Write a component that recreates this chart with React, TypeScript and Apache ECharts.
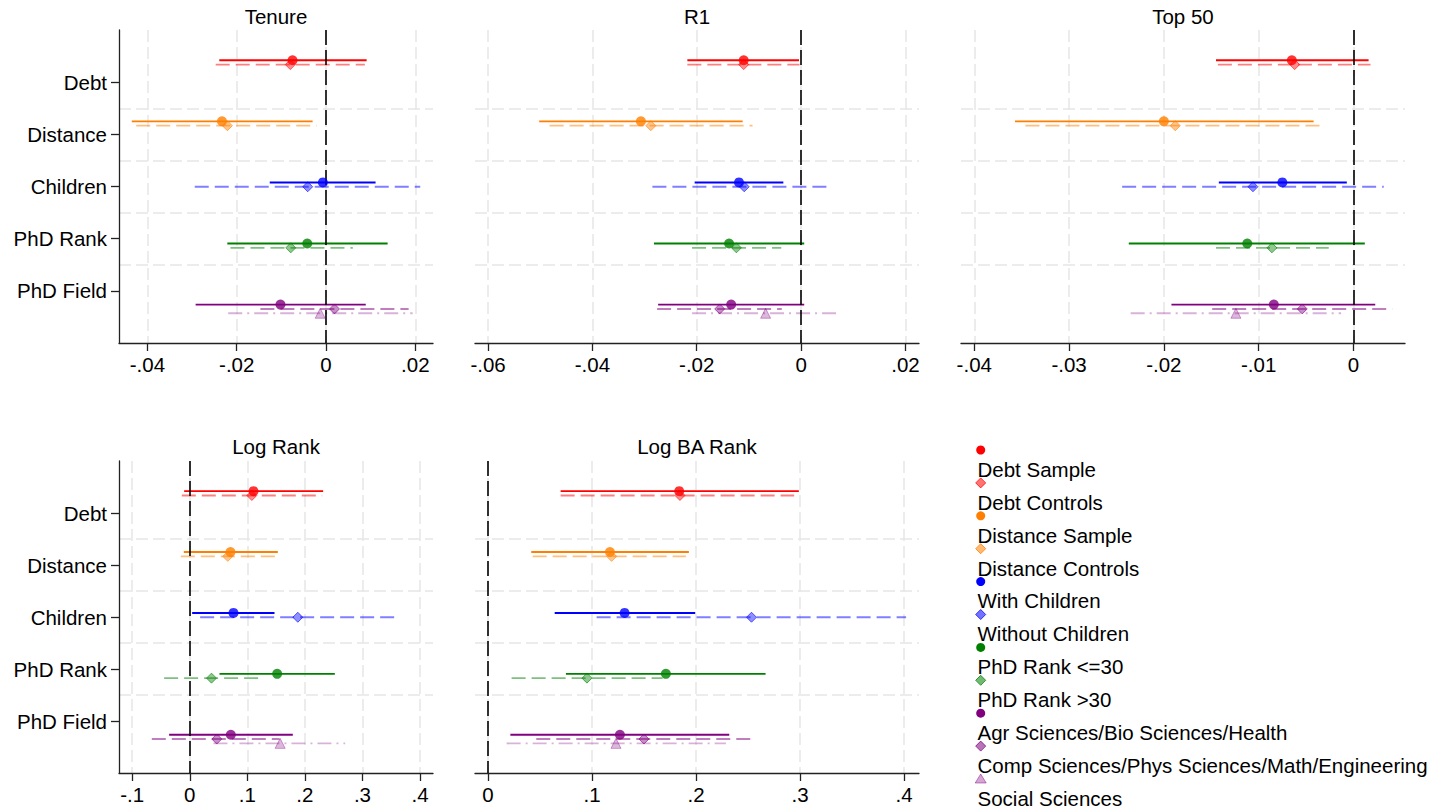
import { useEffect, useRef } from "react";
import * as echarts from "echarts";

// ---------------- data ----------------
const categories = ["Debt", "Distance", "Children", "PhD Rank", "PhD Field"];
const panelTitles = ["Tenure", "R1", "Top 50", "Log Rank", "Log BA Rank"];

// [estimate, ci low, ci high] per category
const tenureMain = [[-0.0075, -0.0239, 0.0091], [-0.0233, -0.0435, -0.003], [-0.0007, -0.0126, 0.0111], [-0.0042, -0.0221, 0.0138], [-0.0102, -0.0292, 0.0089]];
const tenureAlt = [[-0.008, -0.0247, 0.0087], [-0.0221, -0.0425, -0.0021], [-0.0041, -0.0294, 0.0211], [-0.0079, -0.0214, 0.006], [0.0019, -0.0147, 0.0185]];
const tenureSocial = [-0.0013, -0.0219, 0.0194];

const r1Main = [[-0.011, -0.0218, -0.0004], [-0.0307, -0.0502, -0.0112], [-0.0119, -0.0204, -0.0034], [-0.0138, -0.0282, 0.0006], [-0.0134, -0.0274, 0.0006]];
const r1Alt = [[-0.011, -0.0218, -0.0003], [-0.0288, -0.0482, -0.0093], [-0.0109, -0.0285, 0.0059], [-0.0124, -0.0209, -0.0038], [-0.0156, -0.0276, -0.0037]];
const r1Social = [-0.0068, -0.0209, 0.0074];

const top50Main = [[-0.0065, -0.0145, 0.0016], [-0.02, -0.0357, -0.0042], [-0.0075, -0.0142, -0.0007], [-0.0112, -0.0237, 0.0012], [-0.0084, -0.0192, 0.0023]];
const top50Alt = [[-0.0062, -0.0143, 0.0018], [-0.0188, -0.0346, -0.0031], [-0.0106, -0.0244, 0.0032], [-0.0086, -0.0145, -0.0026], [-0.0054, -0.0149, 0.0041]];
const top50Social = [-0.0124, -0.0235, -0.0013];

const logRankMain = [[0.1107, -0.0098, 0.2317], [0.0707, -0.0104, 0.153], [0.0759, 0.0041, 0.1472], [0.1518, 0.0516, 0.252], [0.0713, -0.0359, 0.179]];
const logRankAlt = [[0.1078, -0.0139, 0.23], [0.066, -0.0156, 0.1489], [0.1877, 0.018, 0.3569], [0.0377, -0.0446, 0.1199], [0.0469, -0.066, 0.1559]];
const logRankSocial = [0.157, 0.0411, 0.27];

const logBAMain = [[0.1838, 0.0698, 0.2988], [0.1172, 0.0416, 0.1931], [0.1313, 0.0641, 0.1992], [0.171, 0.0749, 0.2668], [0.1268, 0.0215, 0.2319]];
const logBAAlt = [[0.1845, 0.0698, 0.2943], [0.1188, 0.0429, 0.1902], [0.2533, 0.1044, 0.4019], [0.0951, 0.0227, 0.1678], [0.1499, 0.0464, 0.2543]];
const logBASocial = [0.123, 0.0179, 0.2287];

// axis ticks per panel
const tenureTicks = [-0.04, -0.02, 0, 0.02];
const r1Ticks = [-0.06, -0.04, -0.02, 0, 0.02];
const top50Ticks = [-0.04, -0.03, -0.02, -0.01, 0];
const logRankTicks = [-0.1, 0, 0.1, 0.2, 0.3, 0.4];
const logBATicks = [0, 0.1, 0.2, 0.3, 0.4];

const legendLabels = [
  "Debt Sample",
  "Debt Controls",
  "Distance Sample",
  "Distance Controls",
  "With Children",
  "Without Children",
  "PhD Rank <=30",
  "PhD Rank >30",
  "Agr Sciences/Bio Sciences/Health",
  "Comp Sciences/Phys Sciences/Math/Engineering",
  "Social Sciences",
];

// ---------------- layout / style ----------------
const FONT = '"Liberation Sans", Arial, Helvetica, sans-serif';
const FS = 20.5;
const COLORS = ["#ff0000", "#ff7f00", "#0000ff", "#008000", "#800080"];
const rgba = (hex: string, a: number) => {
  const r = parseInt(hex.slice(1, 3), 16);
  const g = parseInt(hex.slice(3, 5), 16);
  const b = parseInt(hex.slice(5, 7), 16);
  return `rgba(${r},${g},${b},${a})`;
};

const panels = [
  { main: tenureMain, alt: tenureAlt, social: tenureSocial, ticks: tenureTicks, min: -0.04636, max: 0.02396, grid: { left: 119, top: 30, width: 314, height: 313 }, yLabels: true },
  { main: r1Main, alt: r1Alt, social: r1Social, ticks: r1Ticks, min: -0.0625, max: 0.0226, grid: { left: 475, top: 30, width: 444, height: 313 }, yLabels: false },
  { main: top50Main, alt: top50Alt, social: top50Social, ticks: top50Ticks, min: -0.0414, max: 0.00544, grid: { left: 961, top: 30, width: 444, height: 313 }, yLabels: false },
  { main: logRankMain, alt: logRankAlt, social: logRankSocial, ticks: logRankTicks, min: -0.123, max: 0.4226, grid: { left: 119, top: 461, width: 314, height: 312 }, yLabels: true },
  { main: logBAMain, alt: logBAAlt, social: logBASocial, ticks: logBATicks, min: -0.0125, max: 0.4143, grid: { left: 475, top: 461, width: 444, height: 312 }, yLabels: false },
];

const FIRST_POS = 0.58;
const STEP = 1.171;
const ALT_OFF = 0.083;
const SOCIAL_OFF = 0.166;
const catPos = (i: number) => FIRST_POS + STEP * i;

const fmtStata = (v: number) => {
  const s = String(+v.toFixed(4));
  return s.replace(/^(-?)0\./, "$1.");
};

const GRID_COLOR = "#e6e6e6";

function buildOption() {
  const grid: any[] = [];
  const xAxis: any[] = [];
  const yAxis: any[] = [];
  const series: any[] = [];
  const title: any[] = [];

  panels.forEach((p, g) => {
    grid.push({ ...p.grid, containLabel: false });
    title.push({
      text: panelTitles[g],
      left: p.grid.left + p.grid.width / 2,
      top: g < 3 ? 6 : 436,
      textAlign: "center",
      padding: 0,
      textStyle: { fontSize: FS, fontWeight: "normal", color: "#000", fontFamily: FONT },
    });
    xAxis.push({
      type: "value",
      gridIndex: g,
      min: p.min,
      max: p.max,
      axisLine: { show: true, onZero: false, lineStyle: { color: "#222", width: 1.3 } },
      axisTick: { show: true, customValues: p.ticks, length: 8, lineStyle: { color: "#222", width: 1.3 } },
      axisLabel: { customValues: p.ticks, formatter: (v: number) => fmtStata(v), fontSize: FS, color: "#000", fontFamily: FONT, margin: 11 },
      splitLine: { show: true, lineStyle: { color: GRID_COLOR, width: 1.5, type: [12, 5] } },
    });
    // category axis (labels + ticks)
    yAxis.push({
      type: "value",
      gridIndex: g,
      min: 0,
      max: 6,
      inverse: true,
      axisLine: { show: p.yLabels, onZero: false, lineStyle: { color: "#222", width: 1.3 } },
      axisTick: { show: p.yLabels, customValues: [1, 2, 3, 4, 5], length: 8, lineStyle: { color: "#222", width: 1.3 } },
      axisLabel: {
        show: p.yLabels,
        customValues: [1, 2, 3, 4, 5],
        formatter: (v: number) => categories[Math.round(v) - 1] ?? "",
        fontSize: FS,
        color: "#000",
        fontFamily: FONT,
        margin: 12,
      },
      splitLine: { show: false },
    });
    // separator grid lines between categories
    yAxis.push({
      type: "value",
      gridIndex: g,
      min: 0,
      max: 6,
      inverse: true,
      axisLine: { show: false },
      axisTick: { show: false, customValues: [1.5, 2.5, 3.5, 4.5] },
      axisLabel: { show: false },
      splitLine: { show: true, lineStyle: { color: GRID_COLOR, width: 1.5, type: [12, 5] } },
    });

    const yIdx = 2 * g;

    // CI lines
    type Seg = { lo: number; hi: number; y: number; stroke: string; dash: number[] | null; width: number };
    const segs: Seg[] = [];
    p.alt.forEach((d, i) => segs.push({ lo: d[1], hi: d[2], y: catPos(i) + ALT_OFF, stroke: rgba(COLORS[i], 0.5), dash: [14, 6], width: 1.9 }));
    segs.push({ lo: p.social[1], hi: p.social[2], y: catPos(4) + SOCIAL_OFF, stroke: rgba(COLORS[4], 0.3), dash: [14, 5, 2, 5], width: 1.9 });
    p.main.forEach((d, i) => segs.push({ lo: d[1], hi: d[2], y: catPos(i), stroke: COLORS[i], dash: null, width: 1.9 }));

    series.push({
      type: "custom",
      xAxisIndex: g,
      yAxisIndex: yIdx,
      z: 2,
      silent: true,
      data: segs.map((s) => [s.lo, s.hi, s.y]),
      renderItem: (params: any, api: any) => {
        const s = segs[params.dataIndex];
        const a = api.coord([api.value(0), api.value(2)]);
        const b = api.coord([api.value(1), api.value(2)]);
        return {
          type: "line",
          shape: { x1: a[0], y1: a[1], x2: b[0], y2: b[1] },
          style: { stroke: s.stroke, lineWidth: s.width, lineDash: s.dash || undefined, fill: null },
        };
      },
      markLine: {
        silent: true,
        symbol: "none",
        label: { show: false },
        lineStyle: { color: "#000", width: 1.6, type: [15, 5] },
        data: [{ xAxis: 0 }],
      },
    });

    // markers
    series.push({
      type: "scatter",
      xAxisIndex: g,
      yAxisIndex: yIdx,
      z: 3,
      symbol: "triangle",
      symbolSize: 10,
      silent: true,
      data: [{ value: [p.social[0], catPos(4) + SOCIAL_OFF], itemStyle: { color: rgba(COLORS[4], 0.35), borderColor: rgba(COLORS[4], 0.45), borderWidth: 1 } }],
    });
    series.push({
      type: "scatter",
      xAxisIndex: g,
      yAxisIndex: yIdx,
      z: 4,
      symbol: "diamond",
      symbolSize: 10,
      silent: true,
      data: p.alt.map((d, i) => ({ value: [d[0], catPos(i) + ALT_OFF], itemStyle: { color: rgba(COLORS[i], 0.55), borderColor: rgba(COLORS[i], 0.75), borderWidth: 1 } })),
    });
    series.push({
      type: "scatter",
      xAxisIndex: g,
      yAxisIndex: yIdx,
      z: 5,
      symbol: "circle",
      symbolSize: 10,
      silent: true,
      data: p.main.map((d, i) => ({ value: [d[0], catPos(i)], itemStyle: { color: COLORS[i] } })),
    });
  });

  // legend (marker above text, like Stata)
  const graphic: any[] = [];
  const MX = 980.7;
  const MY0 = 450;
  const LSTEP = 32.9;
  legendLabels.forEach((label, i) => {
    const cat = Math.min(Math.floor(i / 2), 4);
    const kind = i === 10 ? "social" : i % 2 === 0 ? "main" : "alt";
    const my = MY0 + LSTEP * i;
    if (kind === "main") {
      graphic.push({ type: "circle", shape: { cx: MX, cy: my, r: 4.5 }, style: { fill: COLORS[cat] }, silent: true });
    } else if (kind === "alt") {
      graphic.push({
        type: "polygon",
        shape: { points: [[MX, my - 5], [MX + 5, my], [MX, my + 5], [MX - 5, my]] },
        style: { fill: rgba(COLORS[cat], 0.55), stroke: rgba(COLORS[cat], 0.75), lineWidth: 1 },
        silent: true,
      });
    } else {
      graphic.push({
        type: "polygon",
        shape: { points: [[MX, my - 5], [MX + 5.5, my + 4], [MX - 5.5, my + 4]] },
        style: { fill: rgba(COLORS[cat], 0.35), stroke: rgba(COLORS[cat], 0.45), lineWidth: 1 },
        silent: true,
      });
    }
    graphic.push({
      type: "text",
      x: 977.5,
      y: my + 19.3,
      silent: true,
      style: {
        text: label,
        fill: "#000",
        font: `${FS}px ${FONT}`,
        textVerticalAlign: "middle",
        verticalAlign: "middle",
      },
    });
  });

  return {
    animation: false,
    backgroundColor: "#ffffff",
    title,
    grid,
    xAxis,
    yAxis,
    series,
    graphic,
  };
}

export default function App() {
  const ref = useRef<HTMLDivElement>(null);
  useEffect(() => {
    if (!ref.current) return;
    const chart = echarts.init(ref.current, undefined, { renderer: "svg" });
    chart.setOption(buildOption() as any);
    return () => chart.dispose();
  }, []);
  return (
    <div
      ref={ref}
      style={{ position: "absolute", left: 0, top: 0, width: 1437, height: 809, background: "#fff" }}
    />
  );
}
